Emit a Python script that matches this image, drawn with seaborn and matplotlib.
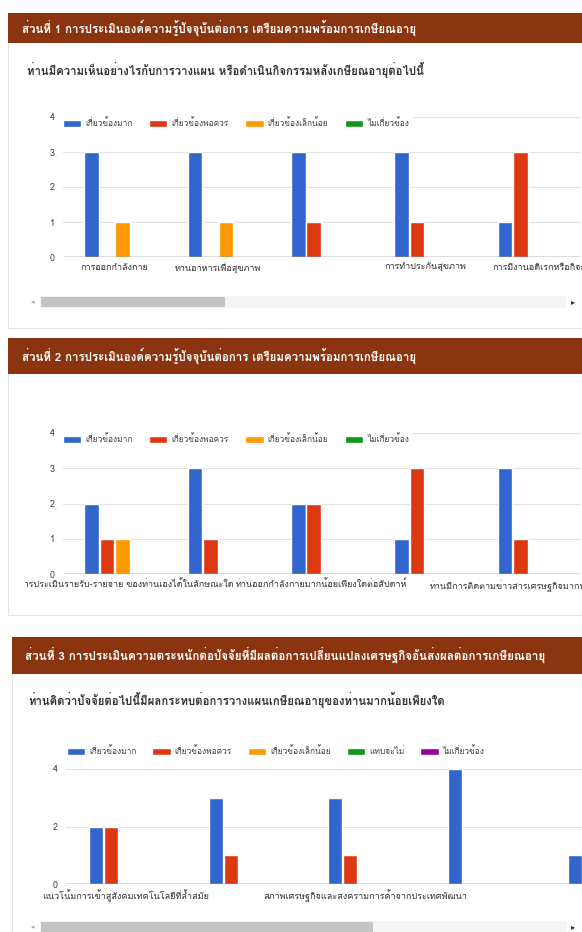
import numpy as np
import pandas as pd
import matplotlib
matplotlib.use('Agg')
import matplotlib.pyplot as plt
import seaborn as sns
from matplotlib import font_manager
from matplotlib.ft2font import FT2Font
from matplotlib.patches import Rectangle
from matplotlib.transforms import Bbox, TransformedBbox

# Response levels and Google-chart colours
levels_4 = ['เกี่ยวข้องมาก', 'เกี่ยวข้องพอควร', 'เกี่ยวข้องเล็กน้อย', 'ไม่เกี่ยวข้อง']
levels_5 = ['เกี่ยวข้องมาก', 'เกี่ยวข้องพอควร', 'เกี่ยวข้องเล็กน้อย', 'แทบจะไม่', 'ไม่เกี่ยวข้อง']
colors_4 = ['#3366cc', '#dc3912', '#ff9900', '#109618']
colors_5 = ['#3366cc', '#dc3912', '#ff9900', '#109618', '#990099']

# Section 1
q1_items = ['การออกกำลังกาย', 'ทานอาหารเพื่อสุขภาพ', 'ข้อ 3', 'การทำประกันสุขภาพ', 'การมีงานอดิเรกหรือกิจกรรมยามว่าง']
q1_ticks = ['การออกกำลังกาย', 'ทานอาหารเพื่อสุขภาพ', '', 'การทำประกันสุขภาพ', '']
q1_last_label = 'การมีงานอดิเรกหรือกิจกรรมยามว่าง'   # drawn shifted, like the original
q1_very = [3, 3, 3, 3, 1]
q1_fair = [0, 0, 1, 1, 3]
q1_little = [1, 1, 0, 0, 0]
q1_none = [0, 0, 0, 0, 0]

# Section 2
q2_items = ['ท่านมีการประเมินรายรับ-รายจ่าย ของท่านเองได้ในลักษณะใด', 'ข้อ 2',
            'ท่านออกกำลังกายมากน้อยเพียงใดต่อสัปดาห์', 'ข้อ 4',
            'ท่านมีการติดตามข่าวสารเศรษฐกิจมากน้อยเพียงใด']
q2_ticks = ['ท่านมีการประเมินรายรับ-รายจ่าย ของท่านเองได้ในลักษณะใด', '',
            'ท่านออกกำลังกายมากน้อยเพียงใดต่อสัปดาห์', '',
            'ท่านมีการติดตามข่าวสารเศรษฐกิจมากน้อยเพียงใด']
q2_very = [2, 3, 2, 1, 3]
q2_fair = [1, 1, 2, 3, 1]
q2_little = [1, 0, 0, 0, 0]
q2_none = [0, 0, 0, 0, 0]

# Section 3
q3_items = ['แนวโน้มการเข้าสู่สังคมเทคโนโลยีที่ล้ำสมัย', 'ข้อ 2',
            'สภาพเศรษฐกิจและสงครามการค้าจากประเทศพัฒนา', 'ข้อ 4', 'ข้อ 5']
q3_ticks = ['แนวโน้มการเข้าสู่สังคมเทคโนโลยีที่ล้ำสมัย', '',
            'สภาพเศรษฐกิจและสงครามการค้าจากประเทศพัฒนา', '', '']
q3_very = [2, 3, 3, 4, 1]
q3_fair = [2, 1, 1, 0, 0]
q3_little = [0, 0, 0, 0, 0]
q3_hardly = [0, 0, 0, 0, 0]
q3_none = [0, 0, 0, 0, 0]

headers = ['ส่วนที่ 1 การประเมินองค์ความรู้ปัจจุบันต่อการ เตรียมความพร้อมการเกษียณอายุ',
           'ส่วนที่ 2 การประเมินองค์ความรู้ปัจจุบันต่อการ เตรียมความพร้อมการเกษียณอายุ',
           'ส่วนที่ 3 การประเมินความตระหนักต่อปัจจัยที่มีผลต่อการเปลี่ยนแปลงเศรษฐกิจอันส่งผลต่อการเกษียณอายุ']
question_1 = 'ท่านมีความเห็นอย่างไรกับการวางแผน หรือดำเนินกิจกรรมหลังเกษียณอายุต่อไปนี้'
question_3 = 'ท่านคิดว่าปัจจัยต่อไปนี้มีผลกระทบต่อการวางแผนเกษียณอายุของท่านมากน้อยเพียงใด'


def find_thai_font():
    # pick any installed font that has Thai glyphs
    for f in font_manager.fontManager.ttflist:
        try:
            if 0x0E01 in FT2Font(f.fname).get_charmap():
                return f.name
        except Exception:
            pass
    return 'DejaVu Sans'


sns.set_style('white')
thai_font = find_thai_font()
plt.rcParams['font.family'] = [thai_font, 'DejaVu Sans']

W, H = 582, 932
fig = plt.figure(figsize=(W / 100, H / 100), dpi=100)
fig.patch.set_facecolor('white')


def fx(x):
    return x / W


def fy(y):
    return 1 - y / H


def rect(x0, y0, x1, y1, z=-5, **kw):
    fig.add_artist(Rectangle((fx(x0), fy(y1)), fx(x1) - fx(x0), fy(y0) - fy(y1),
                             transform=fig.transFigure, zorder=z, **kw))


def long_table(items, levels, columns):
    rows = []
    for level, vals in zip(levels, columns):
        for item, v in zip(items, vals):
            rows.append({'item': item, 'level': level, 'count': v})
    return pd.DataFrame(rows)


def draw_chart(box, items, ticks, levels, colors, columns, width, yticks, grid, legend_xy,
               colsp, tick_size=6.5):
    x0, y0, x1, y1 = box
    ax = fig.add_axes([fx(x0), fy(y1), fx(x1) - fx(x0), fy(y0) - fy(y1)])
    ax.set_facecolor('none')
    df = long_table(items, levels, columns)
    for g in grid:
        ax.axhline(g, color='#e2e2e2', lw=0.8, zorder=0)
    sns.barplot(data=df, x='item', y='count', hue='level', order=items, hue_order=levels,
                palette=colors, width=width, gap=0.06, saturation=1, ax=ax, zorder=2)
    ax.axhline(0, color='#555555', lw=1, zorder=3)
    handles, labels = ax.get_legend_handles_labels()
    ax.get_legend().remove()
    ax.set_xlim(-0.5, len(items) - 0.5)
    ax.set_ylim(0, 4)
    ax.set_yticks(yticks)
    ax.set_yticklabels([str(t) for t in yticks], fontsize=6.5, color='#444444')
    ax.set_xticks(range(len(items)))
    ax.set_xticklabels(ticks, fontsize=tick_size, color='#333333')
    ax.tick_params(axis='y', length=0, pad=6)
    ax.tick_params(axis='x', length=0, pad=4)
    ax.set_xlabel('')
    ax.set_ylabel('')
    for s in ax.spines.values():
        s.set_visible(False)
    clip = TransformedBbox(Bbox.from_extents(fx(25), 0, 1, 1), fig.transFigure)
    for t in ax.get_xticklabels():
        t.set_clip_on(True)
        t.set_clip_box(clip)
    leg = fig.legend(handles, labels, loc='upper left', ncol=len(levels),
                     bbox_to_anchor=(fx(legend_xy[0]), fy(legend_xy[1])),
                     fontsize=6, frameon=True, facecolor='white', edgecolor='white',
                     framealpha=1, handlelength=2.2, handleheight=0.9,
                     handletextpad=0.5, columnspacing=colsp, borderpad=0.3, borderaxespad=0)
    for txt in leg.get_texts():
        txt.set_color('#444444')
    return ax


def scrollbar(y, thumb_end):
    rect(40, y - 6, 566, y + 6, z=1, facecolor='#f4f4f4', edgecolor='none')
    rect(41, y - 5, thumb_end, y + 5, z=1, facecolor='#c4c4c4', edgecolor='none')
    fig.text(fx(33), fy(y), '◂', fontsize=5, color='#aaaaaa', ha='center', va='center',
             family='DejaVu Sans')
    fig.text(fx(573), fy(y), '▸', fontsize=6, color='#333333', ha='center', va='center',
             family='DejaVu Sans')


# cards and headers
rect(8, 13, 582, 328, facecolor='white', edgecolor='#e4e4e4', lw=0.8)
rect(8, 338, 582, 615, facecolor='white', edgecolor='#e4e4e4', lw=0.8)
rect(12, 637, 590, 940, facecolor='white', edgecolor='#e4e4e4', lw=0.8)
header_color = '#8b3510'
rect(8, 13, 582, 43, z=-4, facecolor=header_color, edgecolor='none')
rect(8, 338, 582, 374, z=-4, facecolor=header_color, edgecolor='none')
rect(12, 637, 582, 674, z=-4, facecolor=header_color, edgecolor='none')
fig.text(fx(22), fy(28), headers[0], color='white', fontsize=8.3, weight='bold', va='center')
fig.text(fx(22), fy(356), headers[1], color='white', fontsize=8.3, weight='bold', va='center')
fig.text(fx(25), fy(655), headers[2], color='white', fontsize=8.4, weight='bold', va='center')
fig.text(fx(27), fy(70), question_1, color='#333333', fontsize=8.2, weight='bold', va='center')
fig.text(fx(28), fy(700), question_3, color='#333333', fontsize=8.2, weight='bold', va='center')

ax1 = draw_chart((63, 117, 580, 257), q1_items, q1_ticks, levels_4, colors_4,
                 [q1_very, q1_fair, q1_little, q1_none], 0.6, [0, 1, 2, 3, 4], [1, 2, 3, 4],
                 (60, 116), 2.0)
ax1.text(3.65, -0.04, q1_last_label, transform=ax1.get_xaxis_transform(), ha='left', va='top',
         fontsize=6.5, color='#333333')
draw_chart((63, 433, 580, 574), q2_items, q2_ticks, levels_4, colors_4,
           [q2_very, q2_fair, q2_little, q2_none], 0.6, [0, 1, 2, 3, 4], [1, 2, 3, 4],
           (60, 432), 2.0)
draw_chart((66, 769, 664, 884), q3_items, q3_ticks, levels_5, colors_5,
           [q3_very, q3_fair, q3_little, q3_hardly, q3_none], 0.62, [0, 2, 4], [2, 4],
           (64, 744), 1.9)

scrollbar(302, 225)
scrollbar(927, 373)

fig.savefig('out.png', dpi=100)
